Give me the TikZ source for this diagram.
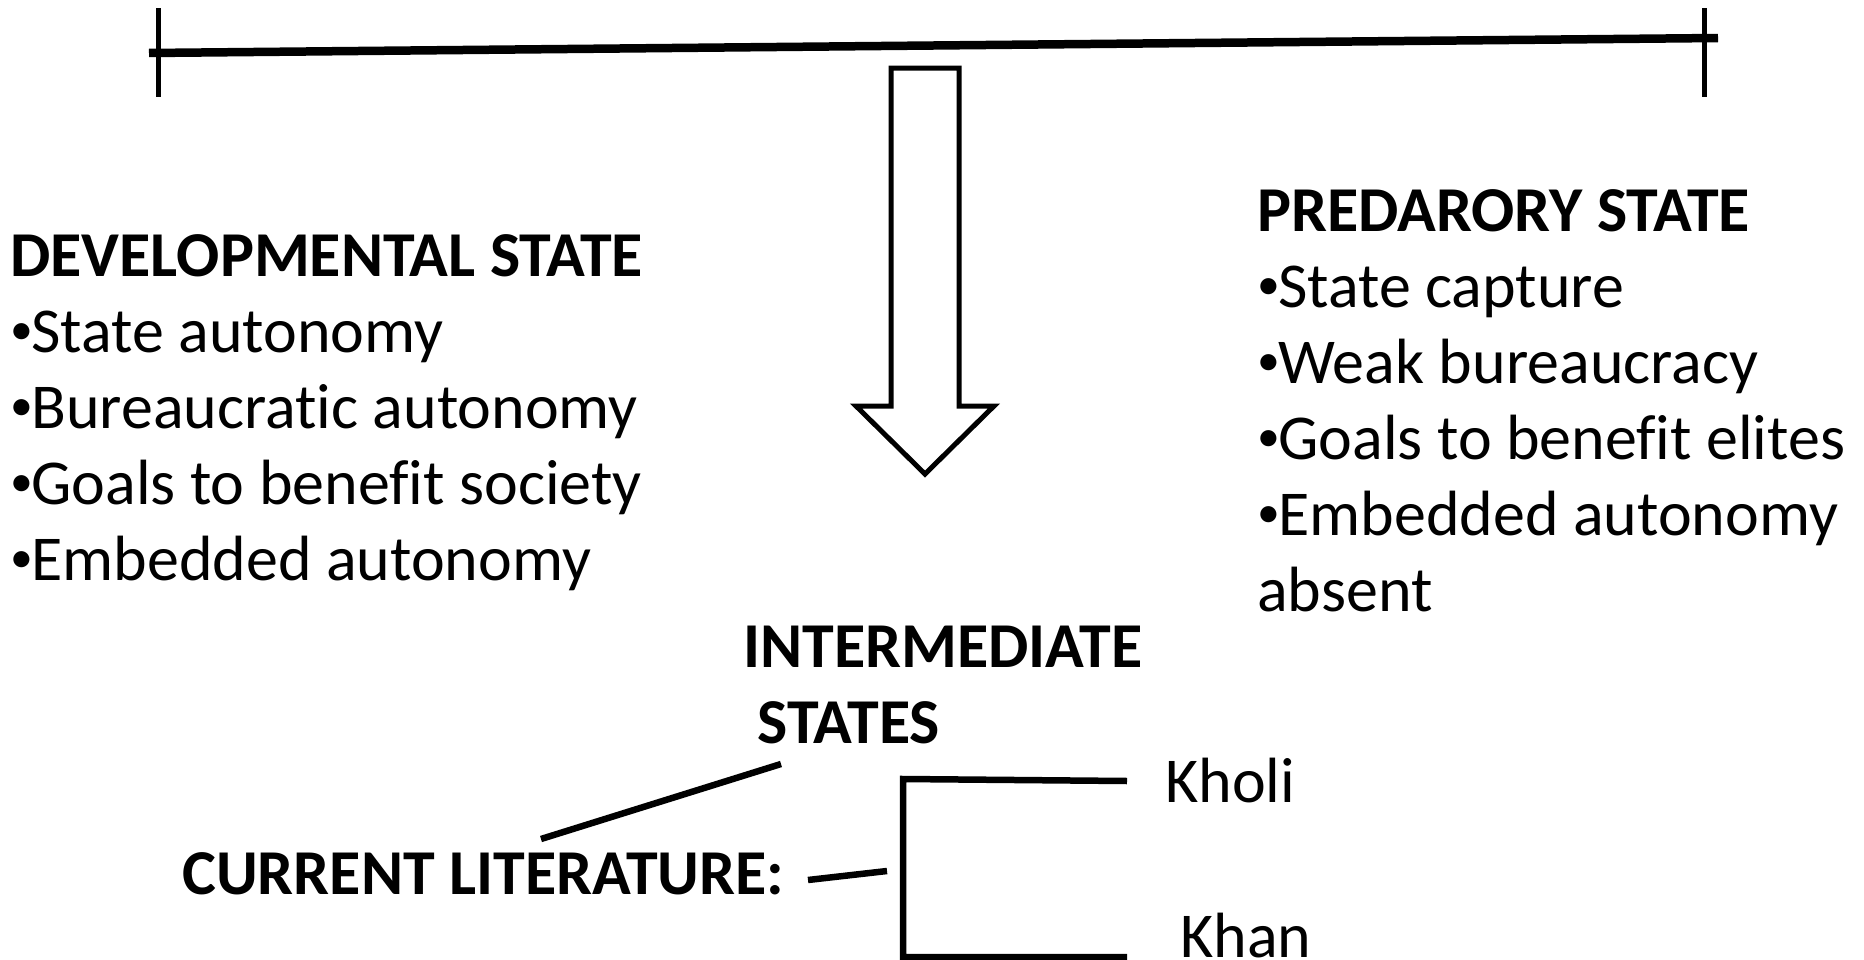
\documentclass[tikz,border=0pt]{standalone}
\usepackage{fontspec}
\setmainfont{Carlito}[Ligatures=NoCommon]
\usepackage{tikz}
\usetikzlibrary{positioning,calc}
\newcommand{\itembullet}{\raisebox{0.12em}{\fontsize{26}{26}\selectfont•}\kern-1pt}

\begin{document}
\begin{tikzpicture}[
    x=0.02cm, y=-0.02cm,
    txt/.style={anchor=base west, inner sep=0pt, align=left, font=\fontsize{36.4}{43.2}\selectfont},
    link/.style={line width=0.13cm},
    tick/.style={line width=0.1cm}
]
\useasboundingbox (0,0) rectangle (1864,960);

% scale from developmental to predatory
\coordinate (scaleL) at (149,53);
\coordinate (scaleR) at (1718,38);
\draw[line width=0.17cm] (scaleL) -- (scaleR);
\draw[tick] (158,8) -- (158,97);
\draw[tick] (1704,8) -- (1704,97);

% block arrow
\draw[line width=0.1cm, line join=miter, fill=white]
    (891,68) -- (959,68) -- (959,406) -- (994,406) -- (925,474)
    -- (856,406) -- (891,406) -- cycle;

% base anchor sits on the last line
\node[txt] (dev) at (10,580) {
    \textbf{DEVELOPMENTAL STATE}\\
    \itembullet State autonomy\\
    \itembullet Bureaucratic autonomy\\
    \itembullet Goals to benefit society\\
    \itembullet Embedded autonomy
};

\node[txt] (pred) at (1257,611) {
    \textbf{PREDARORY STATE}\\
    \itembullet State capture\\
    \itembullet Weak bureaucracy\\
    \itembullet Goals to benefit elites\\
    \itembullet Embedded autonomy\\
    absent
};

\node[txt, font=\fontsize{36.4}{43.2}\selectfont\bfseries] (inter) at (743,743) {
    INTERMEDIATE\\
    \hspace{0.28cm}STATES
};

\node[txt, font=\fontsize{36.4}{43.2}\selectfont\bfseries] (lit) at (182,894) {CURRENT LITERATURE:};
\node[txt] (kholi) at (1165,802) {Kholi};
\node[txt] (khan) at (1180,957) {Khan};

\coordinate (interA) at (541,839);
\coordinate (interB) at (781,764);
\coordinate (litA) at (808,880);
\coordinate (litB) at (887,871);
\coordinate (brTop) at (903,779);
\coordinate (brBot) at (903,957);
\coordinate (kholiEnd) at (1127,781);
\coordinate (khanEnd) at (1127,957);

\draw[link] (interA) -- (interB);
\draw[link] (litA) -- (litB);
\draw[link] (kholiEnd) -- (brTop) -- (brBot) -- (khanEnd);

\end{tikzpicture}
\end{document}
